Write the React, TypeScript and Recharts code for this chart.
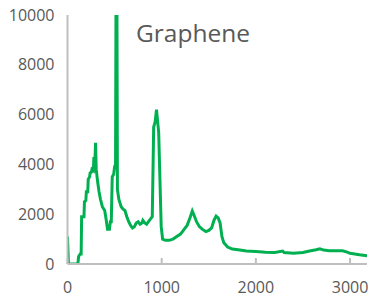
import React from "react";
import { Line, LineChart, XAxis, YAxis } from "recharts";

// Raman shift (cm-1) and intensity
const shifts = [
  0, 10, 110, 118, 135, 145, 150, 175, 180, 195, 200, 215, 220, 235, 240, 255,
  260, 275, 280, 290, 298, 305, 320, 335, 350, 370, 395, 410, 425, 445, 455,
  465, 475, 490, 500, 510, 516, 524, 530, 545, 570, 590, 610, 630, 650, 670,
  690, 710, 730, 750, 770, 790, 800, 820, 840, 860, 880, 900, 915, 930, 945,
  955, 968, 995, 1010, 1040, 1080, 1120, 1160, 1200, 1240, 1270, 1300, 1325,
  1345, 1370, 1400, 1430, 1470, 1500, 1530, 1555, 1578, 1600, 1620, 1640,
  1660, 1700, 1750, 1830, 1900, 2000, 2100, 2200, 2285, 2300, 2400, 2500,
  2570, 2640, 2680, 2720, 2780, 2850, 2920, 2970, 3000, 3050, 3100, 3180,
];
const intensity = [
  1100, 0, 0, 300, 400, 400, 1900, 1900, 2500, 2550, 2900, 2900, 3400, 3500,
  3650, 3700, 3800, 3750, 4300, 4000, 4870, 3800, 3300, 2900, 2600, 2300,
  2150, 1800, 1400, 1400, 1700, 1700, 3500, 3600, 3900, 4000, 12000, 12000,
  3000, 2600, 2300, 2200, 2150, 1900, 1700, 1550, 1450, 1500, 1650, 1700,
  1600, 1650, 1750, 1650, 1600, 1700, 1800, 1900, 5500, 5700, 6200, 5800,
  5300, 1500, 1000, 950, 950, 1000, 1100, 1200, 1400, 1550, 1850, 2130, 1950,
  1700, 1500, 1400, 1300, 1350, 1450, 1750, 1920, 1850, 1650, 1100, 850, 680,
  600, 560, 520, 500, 470, 460, 520, 460, 430, 460, 520, 570, 610, 560, 530,
  530, 530, 480, 430, 400, 370, 330,
];
const xTicks = [0, 1000, 2000, 3000];
const yTicks = [0, 2000, 4000, 6000, 8000, 10000];

const data = shifts.map((x, i) => ({ x, y: intensity[i] }));

const gray = "#595959";
const axisGray = "#bfbfbf";
const tickFont = { fontFamily: "Open Sans", fontSize: 16, fill: gray };

export default function App() {
  return (
    <div style={{ position: "absolute", left: 0, top: 0, width: 391, height: 307, background: "#fff" }}>
      <LineChart
        width={391}
        height={307}
        data={data}
        margin={{ top: 15, right: 24, bottom: 13, left: 0 }}
      >
        <XAxis
          dataKey="x"
          type="number"
          domain={[0, 3180]}
          ticks={xTicks}
          allowDataOverflow
          height={30}
          stroke={axisGray}
          strokeWidth={2}
          tickSize={-6}
          tickMargin={24}
          tick={tickFont}
        />
        <YAxis
          type="number"
          domain={[0, 10000]}
          ticks={yTicks}
          allowDataOverflow
          width={67.5}
          stroke={axisGray}
          strokeWidth={2}
          tickLine={false}
          tickSize={0}
          tickMargin={13}
          tick={tickFont}
        />
        <Line
          dataKey="y"
          type="linear"
          stroke="#00B050"
          strokeWidth={3}
          dot={false}
          isAnimationActive={false}
        />
      </LineChart>
      <div
        style={{
          position: "absolute",
          left: 136,
          top: 21,
          fontFamily: "Open Sans",
          fontSize: 24.5,
          lineHeight: 1,
          color: gray,
        }}
      >
        Graphene
      </div>
    </div>
  );
}
